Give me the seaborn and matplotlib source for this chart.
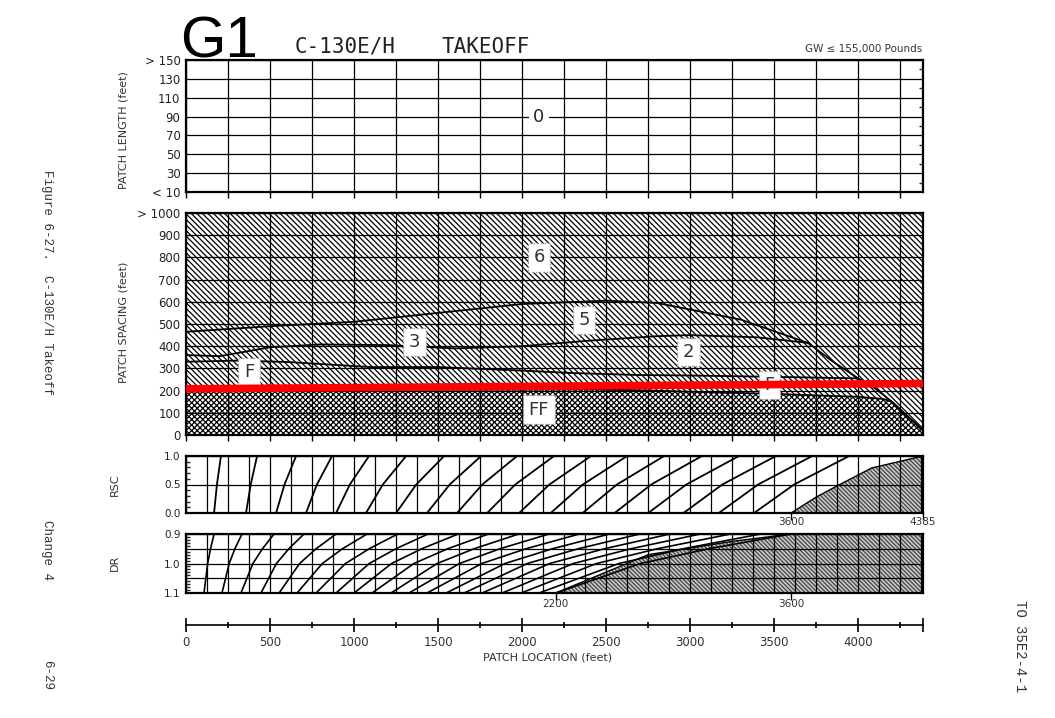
import numpy as np
import pandas as pd
import matplotlib
matplotlib.use("Agg")
import matplotlib.pyplot as plt
import seaborn as sns
from matplotlib.ticker import MultipleLocator

# ---- values (x in feet along the runway) ----
x_max = 4385

length_ticks = [10, 30, 50, 70, 90, 110, 130, 150]
length_labels = ["< 10", "30", "50", "70", "90", "110", "130", "> 150"]
length_zone = "0"
length_zone_xy = (2100, 90)

spacing_ticks = [0, 100, 200, 300, 400, 500, 600, 700, 800, 900, 1000]
spacing_labels = ["0", "100", "200", "300", "400", "500", "600", "700", "800", "900", "> 1000"]

# zone boundaries in the patch spacing chart
b6_x = [0, 500, 1000, 1500, 2000, 2500, 2800, 3000, 3300, 3700, 3850, 4000, 4100, 4200, 4385]
b6_y = [465, 490, 510, 550, 590, 605, 595, 565, 520, 415, 330, 255, 210, 150, 20]
b5_x = [0, 200, 500, 800, 1200, 1600, 2000, 2400, 2800, 3000, 3400, 3700]
b5_y = [360, 355, 395, 408, 405, 390, 400, 425, 445, 450, 440, 415]
b3_x = [0, 300, 600, 1100, 1500, 2000, 2300, 2700, 3000, 3500, 4000]
b3_y = [330, 335, 329, 306, 306, 290, 279, 270, 268, 262, 255]
ff_x = [0, 1000, 2000, 2500, 3000, 3500, 4000, 4150, 4200, 4385]
ff_y = [205, 215, 215, 205, 195, 185, 172, 162, 150, 20]

# hand drawn red limit line
red_x = [0, 4385]
red_y = [208, 232]

zone_names = ["6", "5", "3", "2", "F", "F", "FF"]
zone_x = [2100, 2370, 1360, 2990, 375, 3470, 2100]
zone_y = [800, 518, 419, 374, 284, 225, 113]

# RSC curves: x where each curve meets RSC = 0, 0.5 and 1.0
rsc_levels = [0.0, 0.5, 1.0]
rsc_bottom = [167, 357, 536, 714, 893, 1071, 1250, 1434, 1613, 1792, 1982, 2170, 2360, 2550, 2750, 2960, 3170, 3380]
rsc_mid = [184, 385, 586, 779, 975, 1171, 1370, 1569, 1763, 1959, 2162, 2361, 2564, 2768, 2977, 3191, 3404, 3618]
rsc_top = [208, 423, 655, 869, 1089, 1310, 1536, 1756, 1970, 2190, 2410, 2625, 2845, 3070, 3290, 3510, 3726, 3946]
rsc_edge_x = [3600, 3750, 3890, 4080, 4385]
rsc_edge_y = [0.0, 0.28, 0.5, 0.79, 1.0]
rsc_marks = [3600, 4385]

# DR curves: x where each curve meets DR = 1.1, 1.0, 0.95 and 0.9
dr_levels = [1.1, 1.0, 0.95, 0.9]
dr_bottom = [107, 214, 327, 446, 554, 661, 774, 893, 1000, 1107, 1220, 1327, 1434, 1548, 1655, 1762, 1881, 1994, 2101, 2200]
dr_mid = [129, 257, 398, 538, 676, 811, 949, 1090, 1223, 1356, 1494, 1627, 1760, 1898, 2031, 2164, 2305, 2443, 2576, 2704]
dr_q = [146, 291, 455, 612, 774, 931, 1090, 1249, 1403, 1557, 1714, 1868, 2023, 2180, 2334, 2489, 2647, 2804, 2958, 3110]
dr_top = [167, 333, 524, 702, 893, 1077, 1260, 1440, 1620, 1800, 1980, 2160, 2340, 2520, 2700, 2880, 3060, 3240, 3420, 3600]
dr_edge_x = [2200, 2750, 3250, 3600, 4385]
dr_edge_y = [1.1, 0.97, 0.925, 0.9, 0.9]
dr_marks = [2200, 3600]

loc_ticks = [0, 500, 1000, 1500, 2000, 2500, 3000, 3500, 4000, 4385]
loc_labels = ["0", "500", "1000", "1500", "2000", "2500", "3000", "3500", "4000", ""]

sns.set_theme(style="white")
plt.rcParams["font.family"] = ["DejaVu Sans"]
plt.rcParams["hatch.linewidth"] = 0.9

W, H = 1055, 718
fig = plt.figure(figsize=(W / 100, H / 100), dpi=100)


def box(left, top, right, bottom):
    return [left / W, 1 - bottom / H, (right - left) / W, (bottom - top) / H]


def frame(ax, step):
    ax.set_xlim(0, x_max)
    ax.set_xticks(np.arange(0, x_max, step))
    ax.tick_params(axis="x", bottom=True, length=4, width=1, color="black", labelbottom=False)
    ax.tick_params(axis="y", left=False, length=0, pad=4, labelsize=8.5, labelcolor="#222222")
    ax.grid(True, color="black", lw=0.9)
    ax.set_axisbelow(False)
    for s in ax.spines.values():
        s.set_linewidth(1.6)
        s.set_color("black")
    ax.set_xlabel("")
    ax.set_ylabel("")


def curves_frame(xs_lists, levels):
    rows = []
    for i, xs in enumerate(zip(*xs_lists)):
        for x, y in zip(xs, levels):
            rows.append({"curve": i, "x": x, "y": y})
    return pd.DataFrame(rows)


ax_len = fig.add_axes(box(186, 60, 923, 192))
ax_sp = fig.add_axes(box(186, 213, 923, 435))
ax_rsc = fig.add_axes(box(186, 456, 923, 513))
ax_dr = fig.add_axes(box(186, 534, 923, 593))
ax_loc = fig.add_axes(box(186, 623.5, 923, 624.5))

# --- patch length panel
ax_len.set_ylim(10, 150)
ax_len.set_yticks(length_ticks)
ax_len.set_yticklabels(length_labels)
ax_len.yaxis.set_minor_locator(MultipleLocator(10))
ax_len.tick_params(axis="y", which="minor", right=True, left=False, direction="in", length=3)
frame(ax_len, 250)
ax_len.text(length_zone_xy[0], length_zone_xy[1], length_zone, ha="center", va="center",
            fontsize=13, bbox=dict(boxstyle="square,pad=0.25", fc="white", ec="none"), zorder=4)

# --- patch spacing panel
ax_sp.axhspan(0, 1000, facecolor="white", edgecolor="black", linewidth=0, hatch="\\\\\\\\\\\\")
ax_sp.fill_between(ff_x, 0, ff_y, facecolor="white", edgecolor="black", linewidth=0, hatch="xxxxxx")
bounds = pd.concat([
    pd.DataFrame({"curve": "6", "x": b6_x, "y": b6_y}),
    pd.DataFrame({"curve": "5", "x": b5_x, "y": b5_y}),
    pd.DataFrame({"curve": "3", "x": b3_x, "y": b3_y}),
    pd.DataFrame({"curve": "FF", "x": ff_x, "y": ff_y}),
])
sns.lineplot(data=bounds, x="x", y="y", units="curve", estimator=None, sort=False,
             color="black", lw=1.3, legend=False, ax=ax_sp)
sns.lineplot(x=red_x, y=red_y, color="#ff0000", lw=5.5, legend=False, ax=ax_sp, zorder=6)
for name, zx, zy in zip(zone_names, zone_x, zone_y):
    ax_sp.text(zx, zy, name, ha="center", va="center", fontsize=13, color="#333333",
               bbox=dict(boxstyle="square,pad=0.3", fc="white", ec="#999999", ls=":", lw=1.0),
               zorder=5)
ax_sp.set_ylim(0, 1000)
ax_sp.set_yticks(spacing_ticks)
ax_sp.set_yticklabels(spacing_labels)
frame(ax_sp, 250)

# --- RSC panel
ax_rsc.fill_betweenx(rsc_edge_y, rsc_edge_x, x_max, facecolor="#c8c8c8", edgecolor="#444444",
                     linewidth=0, hatch="\\\\\\\\\\\\\\\\")
rsc_df = curves_frame([rsc_bottom, rsc_mid, rsc_top], rsc_levels)
sns.lineplot(data=rsc_df, x="x", y="y", units="curve", estimator=None, sort=False,
             color="black", lw=1.3, legend=False, ax=ax_rsc)
sns.lineplot(x=rsc_edge_x, y=rsc_edge_y, sort=False, color="black", lw=1.0, legend=False, ax=ax_rsc)
ax_rsc.set_ylim(0, 1)
ax_rsc.set_yticks([0, 0.5, 1.0])
ax_rsc.set_yticklabels(["0.0", "0.5", "1.0"])
ax_rsc.yaxis.set_minor_locator(MultipleLocator(0.1))
frame(ax_rsc, 125)
ax_rsc.tick_params(axis="y", labelsize=7.5)
ax_rsc.tick_params(axis="y", which="minor", left=True, direction="in", length=3)
ax_rsc.tick_params(axis="x", length=0)
for m in rsc_marks:
    ax_rsc.vlines(m, -0.12, 0, transform=ax_rsc.get_xaxis_transform(), color="black", lw=1, clip_on=False)
    ax_rsc.annotate(str(m), xy=(m, 0), xycoords=("data", "axes fraction"), xytext=(0, -3),
                    textcoords="offset points", ha="center", va="top", fontsize=7.5, color="#333333")

# --- DR panel
ax_dr.fill_between(dr_edge_x, dr_edge_y, 1.1, facecolor="#c8c8c8", edgecolor="#444444",
                   linewidth=0, hatch="\\\\\\\\\\\\\\\\")
dr_df = curves_frame([dr_bottom, dr_mid, dr_q, dr_top], dr_levels)
sns.lineplot(data=dr_df, x="x", y="y", units="curve", estimator=None, sort=False,
             color="black", lw=1.2, legend=False, ax=ax_dr)
sns.lineplot(x=dr_edge_x, y=dr_edge_y, sort=False, color="black", lw=1.0, legend=False, ax=ax_dr)
ax_dr.set_ylim(1.1, 0.9)
ax_dr.set_yticks([0.9, 0.95, 1.0, 1.05, 1.1])
ax_dr.set_yticklabels(["0.9", "", "1.0", "", "1.1"])
ax_dr.yaxis.set_minor_locator(MultipleLocator(0.01))
frame(ax_dr, 125)
ax_dr.tick_params(axis="y", labelsize=7.5)
ax_dr.tick_params(axis="y", which="minor", left=True, direction="in", length=3)
ax_dr.tick_params(axis="x", length=0)
for m in dr_marks:
    ax_dr.vlines(m, -0.12, 0, transform=ax_dr.get_xaxis_transform(), color="black", lw=1, clip_on=False)
    ax_dr.annotate(str(m), xy=(m, 0), xycoords=("data", "axes fraction"), xytext=(0, -4),
                   textcoords="offset points", ha="center", va="top", fontsize=7.5, color="#333333")

# --- patch location scale
ax_loc.set_xlim(0, x_max)
ax_loc.set_ylim(0, 1)
ax_loc.patch.set_visible(False)
for side in ["left", "right", "top"]:
    ax_loc.spines[side].set_visible(False)
ax_loc.spines["bottom"].set_linewidth(1.2)
ax_loc.spines["bottom"].set_color("black")
ax_loc.set_yticks([])
ax_loc.set_xticks(loc_ticks)
ax_loc.set_xticklabels(loc_labels)
ax_loc.xaxis.set_minor_locator(MultipleLocator(250))
ax_loc.tick_params(axis="x", which="major", bottom=True, direction="inout", length=10, width=1.2,
                   color="black", labelsize=8.5, pad=3, labelcolor="#333333")
ax_loc.tick_params(axis="x", which="minor", bottom=True, direction="inout", length=4, width=1.2, color="black")

# --- page text
fig.text(180 / W, 1 - 58 / H, "G1", fontsize=42, family="Liberation Sans", va="baseline", color="black")
fig.text(295 / W, 1 - 53 / H, "C-130E/H", fontsize=15, family="DejaVu Sans Mono", va="baseline", color="#222222")
fig.text(442 / W, 1 - 53 / H, "TAKEOFF", fontsize=15, family="DejaVu Sans Mono", va="baseline", color="#222222")
fig.text(922 / W, 1 - 52 / H, "GW \u2264 155,000 Pounds", fontsize=7.5, ha="right", va="baseline", color="#333333")

fig.text(123 / W, 1 - 130 / H, "PATCH LENGTH (feet)", rotation=90, ha="center", va="center", fontsize=8, color="#333333")
fig.text(123 / W, 1 - 322 / H, "PATCH SPACING (feet)", rotation=90, ha="center", va="center", fontsize=8, color="#333333")
fig.text(115 / W, 1 - 485 / H, "RSC", rotation=90, ha="center", va="center", fontsize=8, color="#333333")
fig.text(115 / W, 1 - 563 / H, "DR", rotation=90, ha="center", va="center", fontsize=8, color="#333333")
fig.text(548 / W, 1 - 657 / H, "PATCH LOCATION (feet)", ha="center", va="center", fontsize=8, color="#333333")

fig.text(47 / W, 1 - 170 / H, "Figure 6-27.  C-130E/H Takeoff", rotation=-90, ha="center", va="top",
         family="Liberation Mono", fontsize=9, color="#333333")
fig.text(47 / W, 1 - 520 / H, "Change 4", rotation=-90, ha="center", va="top",
         family="Liberation Mono", fontsize=9, color="#333333")
fig.text(47 / W, 1 - 660 / H, "6-29", rotation=-90, ha="center", va="top",
         family="Liberation Mono", fontsize=9, color="#333333")
fig.text(1020 / W, 1 - 600 / H, "TO 35E2-4-1", rotation=-90, ha="center", va="top",
         family="Liberation Mono", fontsize=10, color="#333333")

fig.savefig("out.png", dpi=100)
